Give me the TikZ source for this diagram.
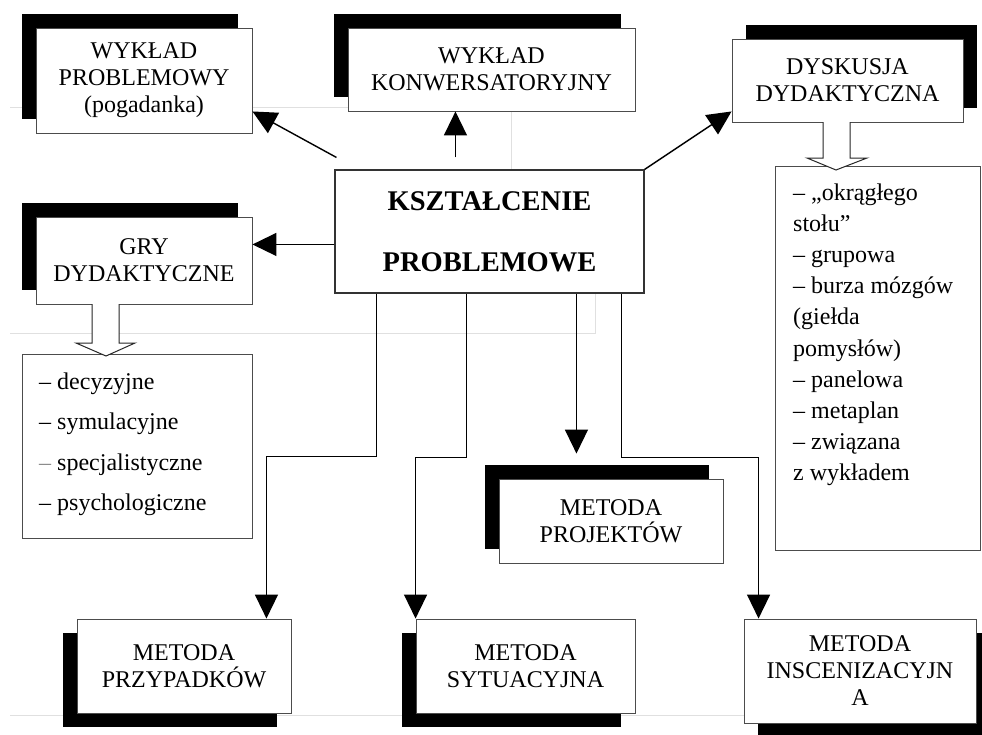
\documentclass[tikz,border=0pt]{standalone}
\usepackage{fontspec}
\setmainfont{Liberation Serif}
\usetikzlibrary{arrows.meta,shadows,calc}

\tikzset{
  box/.style={draw=black!70, line width=0.9pt, fill=white, inner sep=0pt,
    align=center, font=\fontsize{24}{27}\selectfont},
  shadowUL/.style={drop shadow={shadow xshift=-14pt, shadow yshift=14pt, fill=black, opacity=1}},
  shadowUR/.style={drop shadow={shadow xshift=14pt, shadow yshift=14pt, fill=black, opacity=1}},
  shadowDL/.style={drop shadow={shadow xshift=-14pt, shadow yshift=-14pt, fill=black, opacity=1}},
  shadowDR/.style={drop shadow={shadow xshift=14pt, shadow yshift=-14pt, fill=black, opacity=1}},
  listbox/.style={draw=black!70, line width=0.9pt, fill=white},
  listline/.style={anchor=base west, inner sep=0pt, font=\fontsize{24}{27}\selectfont},
  conn/.style={line width=1.4pt, -{Triangle[length=24pt, width=23pt]}},
  openarrow/.style={draw=black!85, line width=1pt, fill=white},
  faint/.style={draw=black!12, line width=0.7pt}
}

\begin{document}
\begin{tikzpicture}[x=1pt, y=-1pt]
\clip (0,0) rectangle (982,734);
\fill[white] (0,0) rectangle (982,734);

% faint grid lines of the underlying table
\draw[faint] (10,107) -- (348,107);
\draw[faint] (511,111) -- (511,170);
\draw[faint] (10,333) -- (595,333) -- (595,293);
\draw[faint] (10,715) -- (744,715);

% central node
\node[draw=black!80, line width=1.1pt, fill=white, minimum width=309pt, minimum height=123pt,
      align=center, font=\fontsize{28.5}{61}\selectfont\bfseries] (kp) at (489.5,231.5)
      {KSZTAŁCENIE\\PROBLEMOWE};

% method boxes
\node[box, shadowUL, minimum width=216pt, minimum height=105pt] (wp) at (144,80.5)
      {WYKŁAD\\PROBLEMOWY\\(pogadanka)};
\node[box, shadowUL, minimum width=287pt, minimum height=83pt] (wk) at (491.5,69.5)
      {WYKŁAD\\KONWERSATORYJNY};
\node[box, shadowUR, minimum width=231pt, minimum height=83pt] (dd) at (847.5,80.5)
      {DYSKUSJA\\DYDAKTYCZNA};
\node[box, shadowUL, minimum width=216pt, minimum height=87pt] (gry) at (144,260.5)
      {GRY\\DYDAKTYCZNE};
\node[box, shadowUL, minimum width=224pt, minimum height=84pt] (pr) at (611,521)
      {METODA\\PROJEKTÓW};
\node[box, shadowDL, minimum width=214pt, minimum height=94pt] (mp) at (184,666)
      {METODA\\PRZYPADKÓW};
\node[box, shadowDL, minimum width=219pt, minimum height=94pt] (ms) at (525.5,666)
      {METODA\\SYTUACYJNA};
\node[box, shadowDR, minimum width=232pt, minimum height=104pt] (mi) at (860,671)
      {METODA\\INSCENIZACYJN\\A};

% list of didactic games
\draw[listbox] (22,354) rectangle (252,538);
\node[listline] (g1) at (39,389) {– decyzyjne};
\node[listline] (g2) at (39,429.5) {– symulacyjne};
\node[listline] (g3) at (39,470) {{\color{black!45}–} specjalistyczne};
\node[listline] (g4) at (39,510.5) {– psychologiczne};

% list of discussion forms
\draw[listbox] (775,166) rectangle (980,550);
\foreach \t [count=\i from 0] in {{– „okrągłego}, {stołu”}, {– grupowa}, {– burza mózgów},
    {(giełda}, {pomysłów)}, {– panelowa}, {– metaplan}, {– związana}, {z wykładem}}
  \node[listline] (d\i) at (793,{200+31.2*\i}) {\t};

% hollow arrows leading into the lists
\draw[openarrow] (92,304) -- (92,343) -- (76,343) -- (106,356) -- (135,343) -- (119,343) -- (119,304);
\draw[openarrow] (823,122) -- (823,158) -- (807,158) -- (836,170) -- (867,158) -- (850,158) -- (850,122);

% connectors from the central node
\coordinate (a1) at ($(kp.north west)+(2,-12)$);
\coordinate (a2) at ($(kp.north west)+(121,-12)$);
\coordinate (a4) at ($(kp.north west)+(0,75)$);
\draw[conn] (a1) -- ($(wp.south east)+(0,-22)$);
\draw[conn] (a2) -- (a2 |- wk.south);
\draw[conn] (kp.north east) -- ($(dd.south west)+(0,-11)$);
\draw[conn] (a4) -- (a4 -| gry.east);

\coordinate (b1) at ($(kp.south west)+(42,0)$);
\coordinate (b2) at ($(kp.south west)+(132,0)$);
\coordinate (b3) at ($(kp.south west)+(242,0)$);
\coordinate (b4) at ($(kp.south west)+(287,0)$);
\draw[conn] (b1) -- ++(0,163) -| ($(mp.north east)+(-25,0)$);
\draw[conn] (b2) -- ++(0,164) -| (ms.north west);
\draw[conn] (b3) -- ($(b3 |- pr.north)+(0,-25)$);
\draw[conn] (b4) -- ++(0,164) -| ($(mi.north west)+(15,0)$);
\end{tikzpicture}
\end{document}
